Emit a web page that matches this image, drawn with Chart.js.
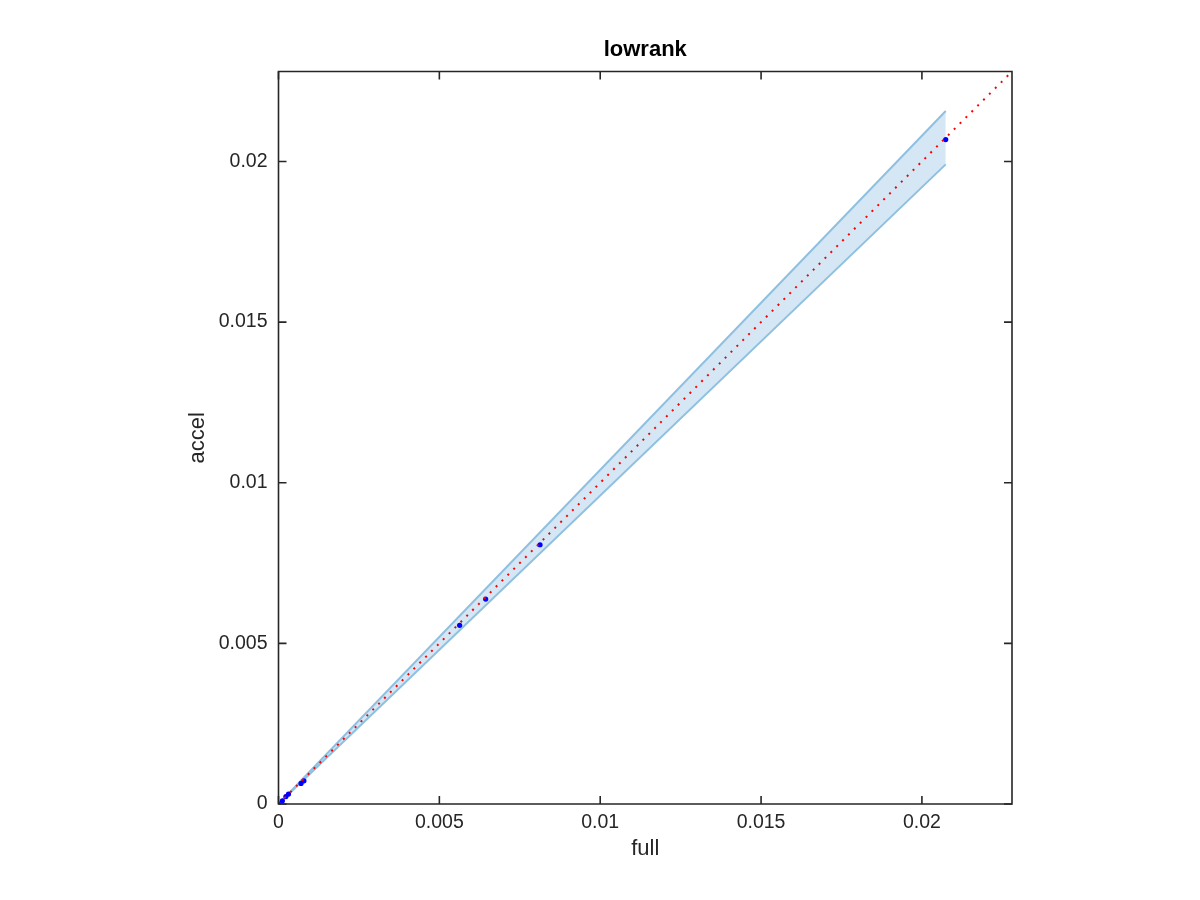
<!DOCTYPE html>
<html>
<head>
<meta charset="utf-8">
<script src="https://cdn.jsdelivr.net/npm/chart.js@4/dist/chart.umd.min.js"></script>
<style>
  html, body { margin: 0; padding: 0; background: #ffffff; }
  canvas { display: block; }
</style>
</head>
<body>
<canvas id="c" width="1200" height="900"></canvas>
<script>
// ---- data ----
const chartTitle = 'lowrank';
const xLabel = 'full';
const yLabel = 'accel';
const axisMin = 0;
const axisMax = 0.0228;
const tickValues = [0, 0.005, 0.01, 0.015, 0.02];
const tickLabels = ['0', '0.005', '0.01', '0.015', '0.02'];

const pointsX = [0, 0.00012, 0.00023, 0.00031, 0.00070, 0.00079, 0.00563, 0.00644, 0.00813, 0.02074];
const pointsY = [0, 0.00010, 0.00023, 0.00031, 0.00064, 0.00072, 0.00556, 0.00638, 0.00807, 0.02068];

const bandX = [0, 0.02074];
const bandUpper = [0, 0.02157];
const bandLower = [0, 0.01991];

const refLineX = [0, 0.0228];
const refLineY = [0, 0.0228];

// ---- build ----
const zip = (xs, ys) => xs.map((x, i) => ({ x: x, y: ys[i] }));
const FONT = '"Liberation Sans", Arial, Helvetica, sans-serif';
const TEXT = '#262626';

const boxPlugin = {
  id: 'matlabBox',
  afterDatasetsDraw(chart) {
    const { ctx, chartArea: a, scales } = chart;
    ctx.save();
    ctx.strokeStyle = TEXT;
    ctx.lineWidth = 1.6;
    ctx.beginPath();
    ctx.rect(a.left, a.top, a.right - a.left, a.bottom - a.top);
    ctx.stroke();
    const tl = 8;
    ctx.beginPath();
    scales.x.ticks.forEach(t => {
      const px = scales.x.getPixelForValue(t.value);
      ctx.moveTo(px, a.bottom); ctx.lineTo(px, a.bottom - tl);
      ctx.moveTo(px, a.top); ctx.lineTo(px, a.top + tl);
    });
    scales.y.ticks.forEach(t => {
      const py = scales.y.getPixelForValue(t.value);
      ctx.moveTo(a.left, py); ctx.lineTo(a.left + tl, py);
      ctx.moveTo(a.right, py); ctx.lineTo(a.right - tl, py);
    });
    ctx.stroke();
    ctx.restore();
  }
};

const setTicks = scale => { scale.ticks = tickValues.map(v => ({ value: v })); };
const tickCb = (value) => {
  const i = tickValues.findIndex(v => Math.abs(v - value) < 1e-9);
  return i >= 0 ? tickLabels[i] : '';
};

new Chart(document.getElementById('c'), {
  type: 'scatter',
  data: {
    datasets: [
      {
        label: 'ref',
        data: zip(refLineX, refLineY),
        showLine: true,
        borderColor: '#ff0000',
        borderWidth: 2,
        borderDash: [2, 6.3],
        pointRadius: 0,
        fill: false,
        order: 0
      },
      {
        label: 'points',
        data: zip(pointsX, pointsY),
        showLine: false,
        backgroundColor: '#0000ff',
        borderColor: '#0000ff',
        pointRadius: 2.6,
        borderWidth: 0,
        order: 1
      },
      {
        label: 'upper',
        data: zip(bandX, bandUpper),
        showLine: true,
        borderColor: '#8fc0e0',
        borderWidth: 2,
        pointRadius: 0,
        fill: false,
        order: 2
      },
      {
        label: 'lower',
        data: zip(bandX, bandLower),
        showLine: true,
        borderColor: '#8fc0e0',
        borderWidth: 2,
        pointRadius: 0,
        fill: '-1',
        backgroundColor: 'rgba(213,230,244,1)',
        order: 3
      }
    ]
  },
  options: {
    responsive: false,
    animation: false,
    devicePixelRatio: 1,
    layout: { padding: { left: 0, right: 188, top: 0, bottom: 0 } },
    plugins: {
      legend: { display: false },
      tooltip: { enabled: false },
      title: {
        display: true,
        fullSize: false,
        text: chartTitle,
        color: '#000000',
        font: { family: FONT, size: 22, weight: 'bold' },
        padding: { top: 36.8, bottom: 8.3 }
      }
    },
    scales: {
      x: {
        type: 'linear',
        position: 'bottom',
        min: axisMin,
        max: axisMax,
        offset: false,
        afterBuildTicks: setTicks,
        afterFit: s => { s.height = 96; s.paddingLeft = 0; s.paddingRight = 0; },
        grid: { display: false, drawTicks: false },
        border: { display: false },
        ticks: {
          callback: tickCb,
          color: TEXT,
          padding: 6.5,
          maxRotation: 0,
          autoSkip: false,
          font: { family: FONT, size: 19.5 }
        },
        title: {
          display: true,
          text: xLabel,
          color: TEXT,
          font: { family: FONT, size: 22 },
          padding: { top: 0, bottom: 37.8 }
        }
      },
      y: {
        type: 'linear',
        position: 'left',
        min: axisMin,
        max: axisMax,
        offset: false,
        afterBuildTicks: setTicks,
        afterFit: s => { s.width = 278.5; s.paddingTop = 0; s.paddingBottom = 0; },
        grid: { display: false, drawTicks: false },
        border: { display: false },
        ticks: {
          callback: tickCb,
          color: TEXT,
          padding: 11,
          autoSkip: false,
          font: { family: FONT, size: 19.5 }
        },
        title: {
          display: true,
          text: yLabel,
          color: TEXT,
          font: { family: FONT, size: 22 },
          padding: { top: 185, bottom: 0 }
        }
      }
    }
  },
  plugins: [boxPlugin]
});
</script>
</body>
</html>
